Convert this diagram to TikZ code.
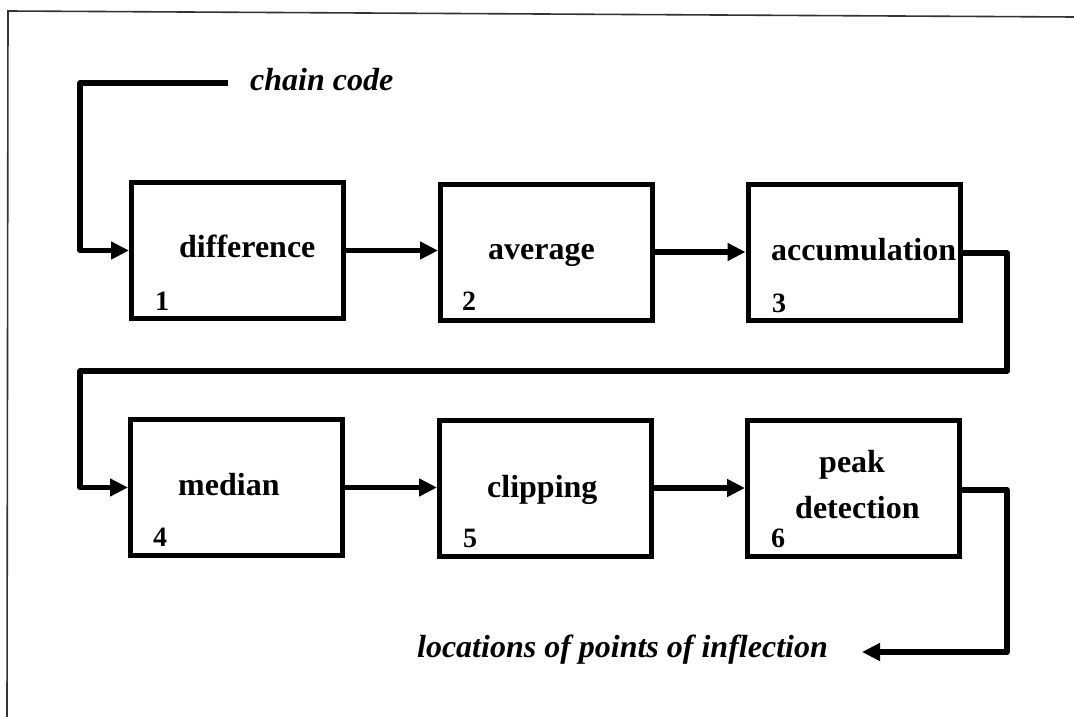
\documentclass[tikz,border=0pt]{standalone}
\usepackage{fontspec}
\setmainfont{Liberation Serif}[
  BoldFont={Liberation Serif Bold},
  ItalicFont={Liberation Serif Italic},
  BoldItalicFont={Liberation Serif Bold Italic}]
\newfontfamily\boxfont{Liberation Serif}[
  BoldFont={Liberation Serif Bold},
  BoldItalicFont={Liberation Serif Bold Italic}]
\usetikzlibrary{arrows.meta}
\tikzset{
  stage/.style={draw, line width=5pt, minimum width=212pt, minimum height=136pt, inner sep=0pt},
  flow/.style={line width=5.5pt, line join=round, -{Triangle[length=18pt,width=17pt]}},
  stagelabel/.style={anchor=base west, inner sep=0pt, font=\boxfont\fontsize{32}{36}\selectfont\bfseries},
  stagenum/.style={anchor=base west, inner sep=0pt, font=\boxfont\fontsize{28}{32}\selectfont\bfseries},
  iotext/.style={inner sep=0pt, font=\boxfont\fontsize{32}{36}\selectfont\bfseries\itshape},
  frame/.style={line width=1.6pt, draw=black!80}
}
\begin{document}
\begin{tikzpicture}[x=1pt, y=-1pt]
\useasboundingbox (0,0) rectangle (1074,717);

% outer frame (top and left edges)
\coordinate (fa) at (8,11);
\coordinate (fb) at (1074,17);
\coordinate (fc) at (7,717);
\draw[frame] (fb) -- (fa) -- (fc);

% processing stages
\node[stage] (b1) at (237.5,250.5) {};
\node[stage] (b2) at (546.5,252) {};
\node[stage] (b3) at (854,252) {};
\node[stage] (b4) at (236.5,487.5) {};
\node[stage] (b5) at (545.5,488) {};
\node[stage] (b6) at (853.5,488.5) {};

% stage names
\node[stagelabel] (t1) at (179,257) {difference};
\node[stagelabel] (t2) at (488,259) {average};
\node[stagelabel] (t3) at (771,260) {accumulation};
\node[stagelabel] (t4) at (178,495) {median};
\node[stagelabel] (t5) at (487,497) {clipping};
\node[stagelabel] (t6a) at (819,472) {peak};
\node[stagelabel] (t6b) at (795,518) {detection};

% stage numbers
\node[stagenum] (n1) at (155,310) {1};
\node[stagenum] (n2) at (462,310) {2};
\node[stagenum] (n3) at (772,312) {3};
\node[stagenum] (n4) at (153,546) {4};
\node[stagenum] (n5) at (463,547) {5};
\node[stagenum] (n6) at (771,547) {6};

% input and output texts
\node[iotext, anchor=base west] (cc) at (250,90) {chain code};
\node[iotext, anchor=base east] (loc) at (828,657) {locations of points of inflection};

% routing points
\coordinate (ccend) at (228,83);
\coordinate (ccbend) at (80,83);
\coordinate (r1) at (1007,253);
\coordinate (r2) at (1007,371);
\coordinate (l1) at (80,371);
\coordinate (o1) at (1007,490);
\coordinate (o2) at (1007,652);
\coordinate (otip) at (862,652);

% connectors
\draw[flow] (ccend) -- (ccbend) |- (b1.west);
\draw[flow] (b1.east) -- (b2.west |- b1.east);
\draw[flow] (b2.east) -- (b3.west |- b2.east);
\draw[flow] (b3.east |- r1) -- (r1) -- (r2) -- (l1) |- (b4.west);
\draw[flow] (b4.east) -- (b5.west |- b4.east);
\draw[flow] (b5.east) -- (b6.west |- b5.east);
\draw[flow] (b6.east |- o1) -- (o1) -- (o2) -- (otip);
\end{tikzpicture}
\end{document}
